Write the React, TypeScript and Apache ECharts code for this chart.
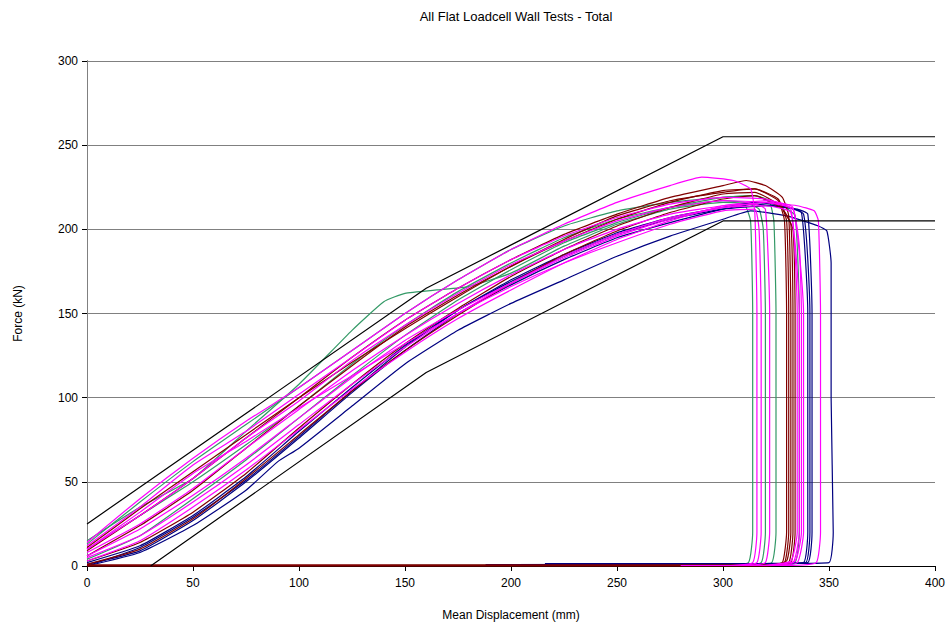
import React, { useEffect, useRef } from "react";
import * as echarts from "echarts";

const chartTitle = "All Flat Loadcell Wall Tests - Total";
const xAxisTitle = "Mean Displacement (mm)";
const yAxisTitle = "Force (kN)";
const xRange = [0, 400, 50];
const yRange = [0, 300, 50];

const upperEnvelope = [[0, 25], [160, 165], [300, 255], [400, 255]];
const lowerEnvelope = [[30, 0], [160, 115], [300, 205], [400, 205]];

// green tests
const green1 = [[0, 15], [25, 35], [50, 52], [75, 80], [100, 108], [125, 140], [140, 157], [150, 162], [165, 164], [180, 166], [200, 174], [225, 190], [250, 203], [275, 212], [300, 216], [310, 215], [313, 205], [314, 150], [314, 20], [312, 2], [300, 0.4], [143, 0.4]];
const green2 = [[0, 13], [25, 38], [50, 62], [75, 84], [100, 106], [125, 128], [150, 150], [175, 170], [200, 188], [225, 202], [250, 211], [275, 216], [300, 219], [315, 220], [322, 216], [324, 205], [325, 150], [325, 20], [323, 2], [310, 0.4], [200, 0.4]];
const green3 = [[0, 10], [25, 30], [50, 50], [75, 72], [100, 95], [125, 120], [150, 143], [175, 163], [200, 180], [225, 195], [250, 206], [275, 213], [300, 217], [310, 216], [317, 212], [319, 200], [320, 150], [320, 20], [318, 2], [305, 0.4], [220, 0.4]];
const green4 = [[0, 4], [25, 18], [50, 40], [75, 63], [100, 88], [125, 113], [150, 137], [175, 158], [200, 176], [225, 192], [250, 204], [275, 213], [300, 219], [315, 220], [328, 214], [334, 208], [336, 150], [336, 20], [334, 2], [320, 0.4], [250, 0.4]];

// blue tests
const blue1 = [[0, 0], [25, 8], [50, 24], [75, 45], [90, 62], [100, 70], [125, 95], [150, 120], [175, 140], [200, 156], [225, 170], [250, 184], [275, 196], [300, 206], [313, 211], [330, 208], [345, 202], [349, 199], [351, 180], [351, 100], [352, 20], [350, 2], [330, 1.5], [216, 1.5]];
const blue2 = [[0, 1], [25, 9], [50, 27], [75, 50], [100, 76], [125, 103], [150, 128], [175, 150], [200, 167], [225, 182], [250, 195], [275, 204], [300, 212], [315, 215], [330, 213], [337, 210], [340, 150], [340, 20], [338, 2], [320, 1.2], [188, 0.8]];
const blue3 = [[0, 2], [25, 12], [50, 30], [75, 53], [100, 80], [125, 106], [150, 131], [175, 152], [200, 170], [225, 185], [250, 198], [275, 207], [300, 213], [315, 216], [328, 214], [338, 209], [341, 150], [341, 20], [339, 2], [320, 1.5], [240, 1.2]];
const blue4 = [[0, 0], [25, 11], [50, 29], [75, 51], [100, 77], [125, 104], [150, 130], [175, 152], [200, 169], [225, 184], [250, 197], [275, 206], [300, 212], [320, 214], [335, 212], [340, 209], [342, 150], [342, 20], [340, 2], [320, 1.4], [260, 1.4]];

// dark red tests
const red1 = [[0, 9], [25, 30], [50, 52], [75, 76], [100, 100], [125, 124], [150, 146], [175, 165], [200, 182], [225, 197], [250, 209], [275, 219], [300, 226], [311, 229], [320, 226], [328, 219], [331, 208], [332, 150], [332, 20], [330, 3], [320, 0], [0, 0]];
const red2 = [[0, 6], [25, 24], [50, 45], [75, 70], [100, 95], [125, 119], [150, 142], [175, 161], [200, 178], [225, 193], [250, 206], [275, 216], [300, 223], [315, 224], [326, 218], [330, 205], [331, 150], [331, 20], [329, 2], [320, 0.5], [0, 0.5]];
const red3 = [[0, 3], [25, 14], [50, 32], [75, 55], [100, 82], [125, 108], [150, 132], [175, 153], [200, 172], [225, 188], [250, 202], [275, 213], [300, 221], [315, 222], [327, 214], [332, 203], [333, 150], [333, 20], [331, 2], [320, 0], [0, 0]];
const red4 = [[0, 1], [25, 10], [50, 28], [75, 52], [100, 78], [125, 104], [150, 128], [175, 149], [200, 168], [225, 185], [250, 199], [275, 210], [300, 218], [315, 220], [328, 212], [333, 200], [334, 150], [334, 20], [332, 2], [320, 0.5], [0, 0.5]];
const red5 = [[0, 11], [25, 34], [50, 56], [75, 78], [100, 100], [125, 121], [150, 141], [175, 160], [200, 178], [225, 194], [250, 208], [275, 217], [300, 222], [315, 224], [326, 217], [329, 205], [330, 150], [330, 20], [328, 2], [320, 0], [0, 0]];

// magenta tests
const magenta1 = [[0, 14], [25, 40], [50, 64], [75, 86], [100, 106], [125, 128], [150, 150], [175, 170], [200, 188], [225, 203], [250, 216], [275, 226], [290, 231], [305, 229], [313, 224], [315, 210], [316, 150], [316, 20], [314, 2], [300, 0.3], [280, 0.3]];
const magenta2 = [[0, 12], [25, 35], [50, 60], [75, 80], [100, 102], [125, 124], [150, 146], [175, 165], [200, 182], [225, 196], [250, 207], [275, 215], [300, 219], [320, 218], [333, 212], [336, 190], [337, 150], [337, 20], [334, 3], [320, 0.3], [300, 0.3]];
const magenta3 = [[0, 10], [25, 30], [50, 52], [75, 76], [100, 98], [125, 122], [150, 143], [175, 162], [200, 179], [225, 193], [250, 205], [275, 213], [300, 217], [320, 216], [332, 212], [335, 150], [335, 20], [332, 3], [318, 0.3], [295, 0.3]];
const magenta4 = [[0, 8], [25, 25], [50, 46], [75, 70], [100, 93], [125, 116], [150, 137], [175, 156], [200, 173], [225, 188], [250, 200], [275, 209], [300, 214], [315, 215], [320, 212], [322, 150], [322, 20], [320, 2], [310, 0.3], [290, 0.3]];
const magenta5 = [[0, 6], [25, 22], [50, 42], [75, 64], [100, 88], [125, 112], [150, 134], [175, 152], [200, 168], [225, 183], [250, 196], [275, 206], [300, 213], [320, 214], [332, 210], [336, 150], [336, 20], [333, 2], [318, 0.3], [300, 0.3]];
const magenta6 = [[0, 5], [25, 18], [50, 38], [75, 60], [100, 84], [125, 108], [150, 130], [175, 150], [200, 168], [225, 184], [250, 197], [275, 207], [300, 213], [320, 216], [335, 214], [343, 211], [345, 205], [346, 150], [346, 20], [344, 2], [330, 0.3], [310, 0.3]];
const magenta7 = [[0, 3], [25, 15], [50, 35], [75, 57], [100, 81], [125, 105], [150, 127], [175, 147], [200, 164], [225, 180], [250, 194], [275, 205], [300, 214], [320, 217], [333, 213], [338, 150], [338, 20], [335, 2], [320, 0.3], [300, 0.3]];
const magenta8 = [[0, 10], [25, 32], [50, 55], [75, 74], [100, 94], [125, 113], [150, 132], [175, 150], [200, 166], [225, 180], [250, 192], [275, 203], [300, 211], [315, 212], [317, 200], [318, 150], [318, 20], [316, 2], [305, 0.3], [285, 0.3]];

const GREEN = "#339966";
const BLUE = "#000080";
const DARKRED = "#800000";
const MAGENTA = "#FF00FF";

const groups: [number[][][], string][] = [
  [[green1, green2, green3, green4], GREEN],
  [[blue1, blue2, blue3, blue4], BLUE],
  [[red1, red2, red3, red4, red5], DARKRED],
  [[magenta1, magenta2, magenta3, magenta4, magenta5, magenta6, magenta7, magenta8], MAGENTA],
];

const FONT = "Liberation Sans, Arial, sans-serif";

export default function App() {
  const ref = useRef<HTMLDivElement>(null);
  useEffect(() => {
    document.body.style.margin = "0";
    if (!ref.current) return;
    const chart = echarts.init(ref.current, null, { renderer: "svg" });
    const series: any[] = [];
    groups.forEach(([list, color]) => {
      list.forEach((d) => {
        series.push({
          type: "line",
          data: d,
          showSymbol: false,
          symbol: "none",
          smooth: 0.15,
          lineStyle: { color, width: 1.2 },
          z: 3,
        });
      });
    });
    [upperEnvelope, lowerEnvelope].forEach((d) => {
      series.push({
        type: "line",
        data: d,
        showSymbol: false,
        symbol: "none",
        lineStyle: { color: "#000000", width: 1.2 },
        z: 4,
      });
    });
    chart.setOption({
      animation: false,
      backgroundColor: "#ffffff",
      title: {
        text: chartTitle,
        left: 511,
        textAlign: "center",
        top: 5,
        textStyle: { fontFamily: FONT, fontSize: 13, fontWeight: "normal", color: "#000" },
      },
      grid: { left: 87, right: 16, top: 61, bottom: 62, containLabel: false },
      xAxis: [
        {
          type: "value",
          min: xRange[0],
          max: xRange[1],
          interval: xRange[2],
          name: xAxisTitle,
          nameLocation: "middle",
          nameGap: 43,
          nameTextStyle: { fontFamily: FONT, fontSize: 12, color: "#000" },
          axisLine: { show: true, lineStyle: { color: "#000", width: 1 } },
          axisTick: { show: true, length: 5, lineStyle: { color: "#000" } },
          axisLabel: { fontFamily: FONT, fontSize: 12, color: "#000", margin: 11 },
          splitLine: { show: false },
        },
        {
          type: "value",
          position: "top",
          min: xRange[0],
          max: xRange[1],
          axisLine: { show: true, lineStyle: { color: "#000", width: 1 } },
          axisTick: { show: false },
          axisLabel: { show: false },
          splitLine: { show: false },
        },
      ],
      yAxis: [
        {
          type: "value",
          min: yRange[0],
          max: yRange[1],
          interval: yRange[2],
          name: yAxisTitle,
          nameLocation: "middle",
          nameGap: 63,
          nameRotate: 90,
          nameTextStyle: { fontFamily: FONT, fontSize: 12, color: "#000" },
          axisLine: { show: true, lineStyle: { color: "#000", width: 1 } },
          axisTick: { show: true, length: 5, lineStyle: { color: "#000" } },
          axisLabel: { fontFamily: FONT, fontSize: 12, color: "#000", margin: 9 },
          splitLine: { show: true, lineStyle: { color: "#808080", width: 1 } },
        },
        {
          type: "value",
          position: "right",
          min: yRange[0],
          max: yRange[1],
          axisLine: { show: true, lineStyle: { color: "#808080", width: 1 } },
          axisTick: { show: false },
          axisLabel: { show: false },
          splitLine: { show: false },
        },
      ],
      series,
    });
    return () => chart.dispose();
  }, []);
  return (
    <div
      ref={ref}
      style={{ width: 951, height: 628, position: "fixed", left: 0, top: 0 }}
    />
  );
}
